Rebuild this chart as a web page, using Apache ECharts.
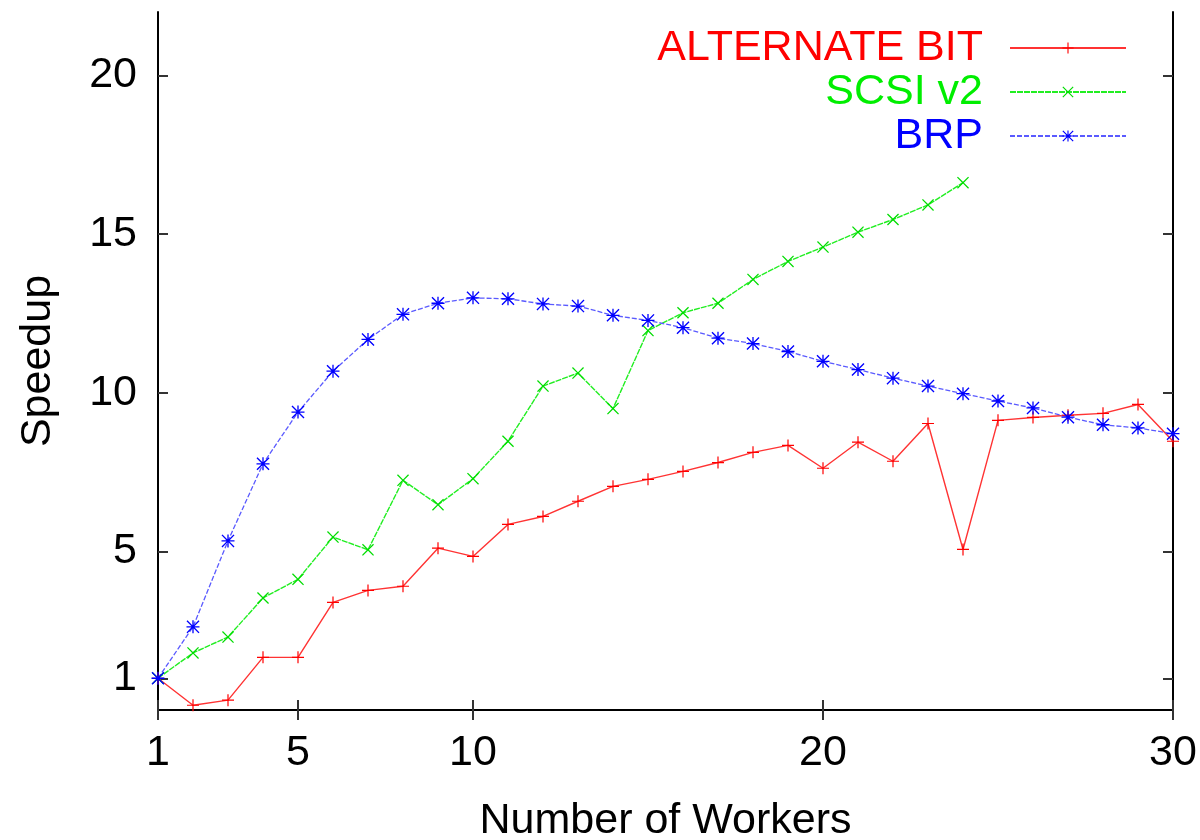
<!DOCTYPE html>
<html>
<head>
<meta charset="utf-8">
<script src="https://cdn.jsdelivr.net/npm/echarts@6/dist/echarts.min.js"></script>
<style>
  html, body { margin: 0; padding: 0; background: #fff; }
  #main { width: 1200px; height: 840px; }
</style>
</head>
<body>
<div id="main"></div>
<script>
// number of workers (x)
var workers = [1, 2, 3, 4, 5, 6, 7, 8, 9, 10, 11, 12, 13, 14, 15, 16, 17, 18, 19, 20,
               21, 22, 23, 24, 25, 26, 27, 28, 29, 30];
// speedup per protocol
var alternateBit = [1.0, 0.15, 0.31, 1.66, 1.66, 3.39, 3.77, 3.9, 5.1, 4.84,
                    5.85, 6.1, 6.58, 7.05, 7.27, 7.52, 7.8, 8.12, 8.34, 7.62,
                    8.44, 7.84, 9.03, 5.06, 9.13, 9.22, 9.29, 9.35, 9.63, 8.47];
var scsiV2 = [1.0, 1.8, 2.3, 3.53, 4.12, 5.45, 5.05, 7.24, 6.47, 7.29,
              8.47, 10.21, 10.62, 9.5, 11.96, 12.52, 12.82, 13.57, 14.14, 14.59,
              15.06, 15.46, 15.92, 16.62];
var brp = [1.0, 2.62, 5.33, 7.76, 9.39, 10.68, 11.68, 12.47, 12.82, 12.99,
           12.96, 12.8, 12.73, 12.44, 12.28, 12.05, 11.72, 11.55, 11.3, 10.99,
           10.73, 10.46, 10.21, 9.97, 9.74, 9.52, 9.23, 8.99, 8.89, 8.71];
// tick labels
var xTicks = [1, 5, 10, 20, 30];
var yTicks = [1, 5, 10, 15, 20];

(function(){
    var myChart = echarts.init(document.getElementById('main'));
    var FONT = 'Liberation Sans';
    // gnuplot style point marks
    var PLUS = 'path://M9,0H11V9H20V11H11V20H9V11H0V9H9Z';
    var CROSS = 'path://M0,1.5L1.5,0L10,8.5L18.5,0L20,1.5L11.5,10L20,18.5L18.5,20L10,11.5L1.5,20L0,18.5L8.5,10Z';
    var STAR = PLUS + 'M0,1.5L1.5,0L10,8.5L18.5,0L20,1.5L11.5,10L20,18.5L18.5,20L10,11.5L1.5,20L0,18.5L8.5,10Z';

    function pairs(vals){
        return vals.map(function(v, i){ return [workers[i], v]; });
    }

    var axisLine = { show: true, lineStyle: { color: '#000', width: 2 } };
    var tick = { show: true, inside: true, length: 10, lineStyle: { color: '#333', width: 2 } };

    var option = {
        animation: false,
        backgroundColor: '#fff',
        grid: { left: 158, right: 27, top: 12, bottom: 130, outerBoundsMode: 'none' },
        legend: {
            orient: 'vertical',
            align: 'right',
            right: 68,
            top: 21,
            itemWidth: 116,
            itemHeight: 14,
            itemGap: 0,
            textStyle: { fontFamily: FONT, fontSize: 43, lineHeight: 44, padding: [0, 22, 0, 0] },
            data: [
                { name: 'ALTERNATE BIT', textStyle: { color: '#ff0000' } },
                { name: 'SCSI v2', textStyle: { color: '#00ee00' } },
                { name: 'BRP', textStyle: { color: '#0000ff' } }
            ]
        },
        xAxis: [{
            type: 'value',
            min: 1,
            max: 30,
            position: 'bottom',
            name: 'Number of Workers',
            nameLocation: 'middle',
            nameGap: 90,
            nameTextStyle: { fontFamily: FONT, fontSize: 43, color: '#000' },
            axisLine: axisLine,
            axisTick: Object.assign({ customValues: xTicks }, tick),
            axisLabel: { customValues: xTicks, fontFamily: FONT, fontSize: 43, color: '#000', margin: 22 },
            splitLine: { show: false }
        }, {
            type: 'value',
            min: 1,
            max: 30,
            position: 'top',
            axisLine: axisLine,
            axisTick: Object.assign({ customValues: xTicks }, tick),
            axisLabel: { show: false },
            splitLine: { show: false }
        }],
        yAxis: [{
            type: 'value',
            min: 0,
            max: 22,
            position: 'left',
            name: 'Speedup',
            nameLocation: 'middle',
            nameGap: 98,
            nameTextStyle: { fontFamily: FONT, fontSize: 43, color: '#000' },
            axisLine: axisLine,
            axisTick: Object.assign({ customValues: yTicks }, tick),
            axisLabel: { customValues: yTicks, fontFamily: FONT, fontSize: 43, color: '#000', margin: 21 },
            splitLine: { show: false }
        }, {
            type: 'value',
            min: 0,
            max: 22,
            position: 'right',
            axisLine: axisLine,
            axisTick: Object.assign({ customValues: yTicks }, tick),
            axisLabel: { show: false },
            splitLine: { show: false }
        }],
        series: [{
            name: 'ALTERNATE BIT',
            type: 'line',
            data: pairs(alternateBit),
            symbol: PLUS,
            symbolSize: 12,
            itemStyle: { color: '#ff0000', borderWidth: 0 },
            lineStyle: { color: '#ff3333', width: 1.4 }
        }, {
            name: 'SCSI v2',
            type: 'line',
            data: pairs(scsiV2),
            symbol: CROSS,
            symbolSize: 12,
            itemStyle: { color: '#00dd00', borderWidth: 0 },
            lineStyle: { color: '#22ee22', width: 1.4, type: [6, 1] }
        }, {
            name: 'BRP',
            type: 'line',
            data: pairs(brp),
            symbol: STAR,
            symbolSize: 13,
            itemStyle: { color: '#0000ff', borderWidth: 0 },
            lineStyle: { color: '#5a5aff', width: 1.3, type: [5, 2] }
        }]
    };
    myChart.setOption(option);
})();
</script>
</body>
</html>
